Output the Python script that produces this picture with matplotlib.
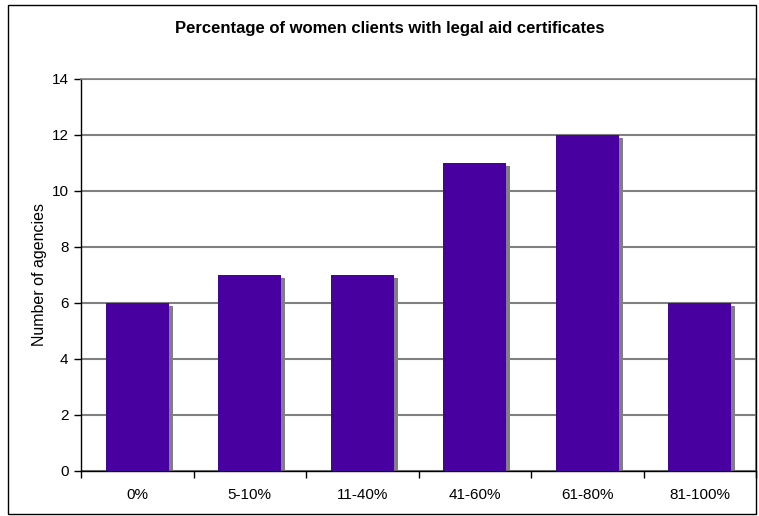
import matplotlib
matplotlib.use("Agg")
import matplotlib.pyplot as plt
from matplotlib.patches import Rectangle
import numpy as np

categories = ["0%", "5-10%", "11-40%", "41-60%", "61-80%", "81-100%"]
agencies = [6, 7, 7, 11, 12, 6]

BAR_COLOR = "#4800A0"
SHADOW = "#808080"

plt.rcParams['font.family'] = ['Liberation Sans', 'DejaVu Sans']

fig = plt.figure(figsize=(7.59, 5.16), dpi=100)
W, H = 759.0, 516.0
ax = fig.add_axes([81 / W, 1 - 471 / H, (756 - 81) / W, (471 - 79) / H])

x = np.arange(len(categories))
width = 0.56
# drop shadow behind each bar
ax.bar(x + 0.035, [v - 0.1 for v in agencies], width=width, color=SHADOW, zorder=2)
ax.bar(x, agencies, width=width, color=BAR_COLOR, zorder=3)

ax.set_xlim(-0.5, len(categories) - 0.5)
ax.set_ylim(0, 14)
ax.set_yticks(range(0, 15, 2))
ax.yaxis.grid(True, color="#808080", linewidth=1.5, zorder=1)
ax.set_axisbelow(True)

ax.set_xticks(x)
ax.set_xticklabels(categories, fontsize=11)
ax.tick_params(axis="x", length=0, pad=12)
ax.set_xticks(np.arange(-0.5, len(categories)), minor=True)
ax.tick_params(axis="x", which="minor", length=5, direction="out", width=1)
ax.tick_params(axis="y", labelsize=11, length=5, direction="out", width=1, pad=4)

for s in ["top", "right"]:
    ax.spines[s].set_color("#808080")
    ax.spines[s].set_linewidth(1.2)
for s in ["left", "bottom"]:
    ax.spines[s].set_color("black")
    ax.spines[s].set_linewidth(1)

ax.set_ylabel("Number of agencies", fontsize=11.5, labelpad=3)
fig.text(390 / W, 1 - 29 / H, "Percentage of women clients with legal aid certificates",
         ha="center", va="center", fontsize=12, fontweight="bold")

fig.patches.append(Rectangle((8 / W, 2 / H), (756 - 8) / W, (511 - 2) / H,
                             transform=fig.transFigure, fill=False,
                             edgecolor="black", linewidth=1))

fig.savefig("out.png", dpi=100)
